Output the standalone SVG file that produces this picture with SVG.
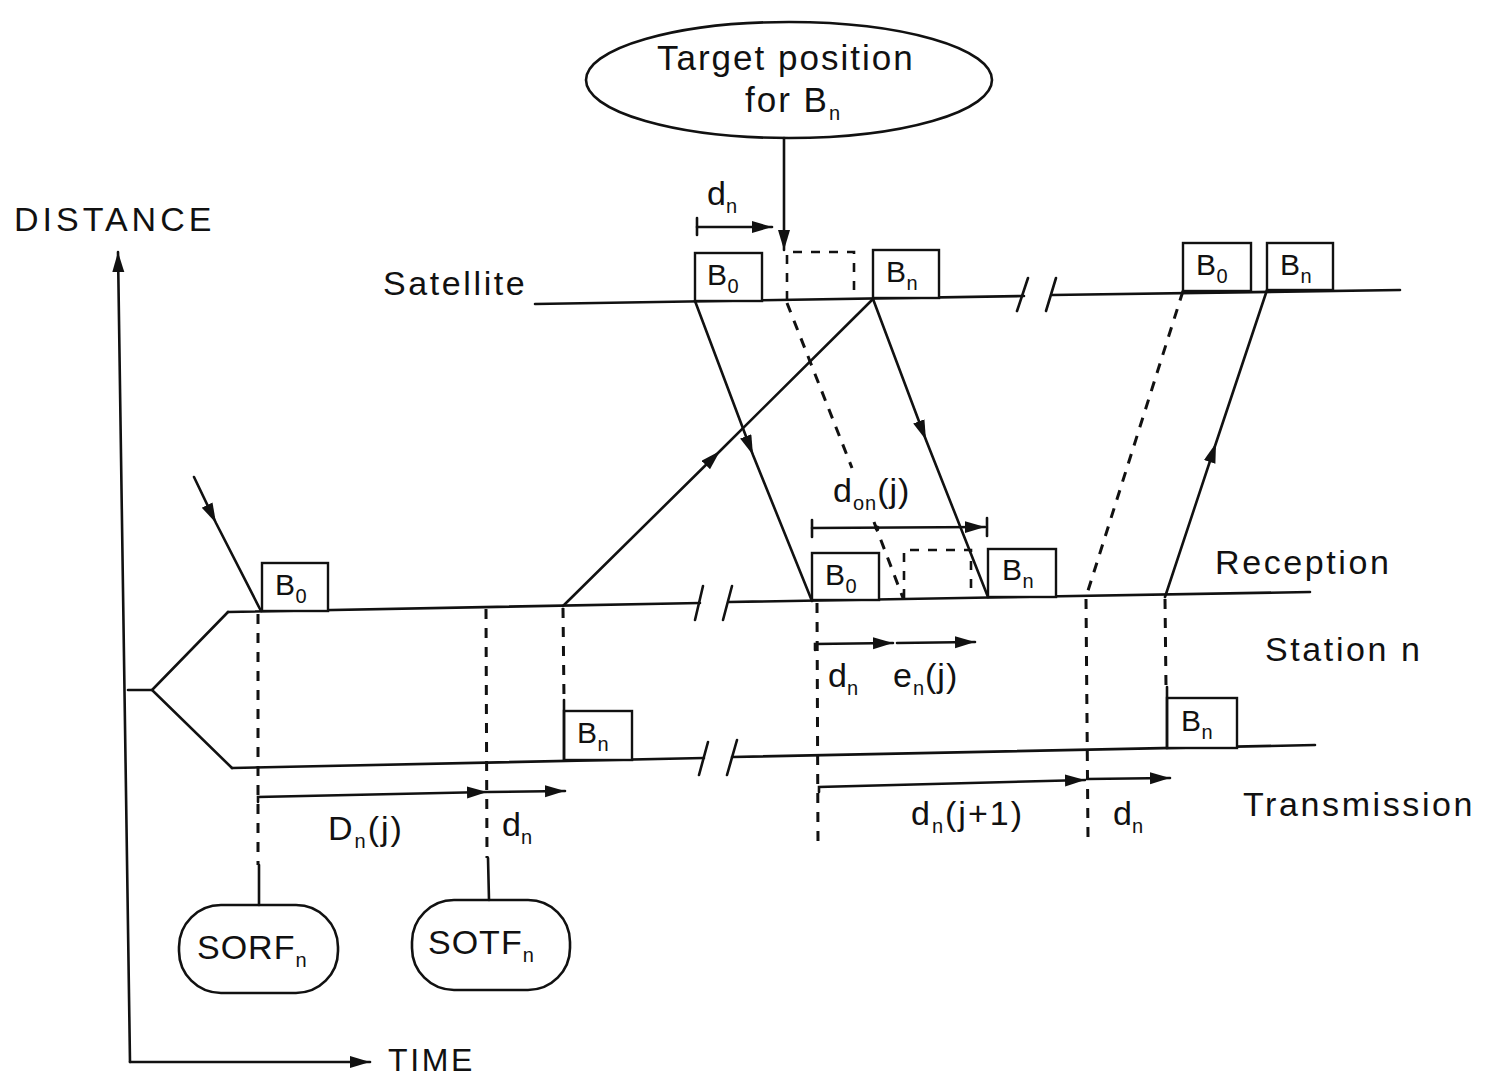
<svg xmlns="http://www.w3.org/2000/svg" width="1499" height="1078" viewBox="0 0 1499 1078">
<style>
.ln{stroke:#111;stroke-width:2.6;fill:none;stroke-linecap:round}
.ds{stroke:#111;stroke-width:3;fill:none;stroke-dasharray:10 9}
.bx{stroke:#111;stroke-width:2.4;fill:#fff}
.dbx{stroke:#111;stroke-width:2.6;fill:none;stroke-dasharray:9 9}
text{font-family:"Liberation Sans",Arial,sans-serif;fill:#111}
.lb{font-size:34px;letter-spacing:2.6px}
.bl{font-size:30px;letter-spacing:0.5px}
.sb{font-size:20px}
</style>
<defs>
<marker id="ah" markerUnits="userSpaceOnUse" markerWidth="22" markerHeight="14" refX="20" refY="6" orient="auto"><path d="M0,0 L20,6 L0,12 z" fill="#111"/></marker>
</defs>
<rect width="1499" height="1078" fill="#fff"/>

<g id="axes">
<line class="ln" x1="130" y1="1062" x2="118" y2="252" marker-end="url(#ah)"/>
<line class="ln" x1="130" y1="1062" x2="370" y2="1062" marker-end="url(#ah)"/>
<text class="lb" x="14" y="231" style="letter-spacing:4px">DISTANCE</text>
<text class="lb" x="388" y="1071" style="font-size:32px">TIME</text>
</g>

<g id="target">
<ellipse cx="789" cy="80" rx="203" ry="58" fill="#fff" stroke="#111" stroke-width="2.6"/>
<text class="lb" x="657" y="70" style="font-size:35px;letter-spacing:2px">Target position</text>
<text class="lb" x="745" y="112" style="font-size:35px;letter-spacing:2px">for B<tspan class="sb" dy="8" style="letter-spacing:0">n</tspan></text>
</g>

<g id="satellite">
<text class="lb" x="383" y="295">Satellite</text>
<line class="ln" x1="535" y1="304" x2="1024" y2="296"/>
<line class="ln" x1="1052" y1="295" x2="1400" y2="290"/>
<line class="ln" x1="1028" y1="278" x2="1017" y2="311"/>
<line class="ln" x1="1056" y1="278" x2="1046" y2="311"/>
<rect class="bx" x="695" y="253" width="67" height="48"/>
<text class="bl" x="707" y="285">B<tspan class="sb" dy="8">0</tspan></text>
<rect class="bx" x="873" y="250" width="66" height="48"/>
<text class="bl" x="886" y="282">B<tspan class="sb" dy="8">n</tspan></text>
<rect class="bx" x="1183" y="243" width="68" height="48"/>
<text class="bl" x="1196" y="275">B<tspan class="sb" dy="8">0</tspan></text>
<rect class="bx" x="1267" y="243" width="66" height="47"/>
<text class="bl" x="1280" y="275">B<tspan class="sb" dy="8">n</tspan></text>
<path class="dbx" d="M787,300 L787,252 L854,252 L854,298"/>
</g>

<g id="station">
<line class="ln" x1="128" y1="690" x2="152" y2="690"/>
<polyline class="ln" points="228,612 152,690 232,768"/>
<line class="ln" x1="228" y1="612" x2="700" y2="603"/>
<line class="ln" x1="729" y1="602" x2="1310" y2="592"/>
<line class="ln" x1="703" y1="586" x2="695" y2="620"/>
<line class="ln" x1="732" y1="586" x2="723" y2="620"/>
<line class="ln" x1="232" y1="768" x2="704" y2="758"/>
<line class="ln" x1="732" y1="757" x2="1315" y2="745"/>
<line class="ln" x1="708" y1="742" x2="699" y2="775"/>
<line class="ln" x1="737" y1="740" x2="727" y2="775"/>
<text class="lb" x="1215" y="574">Reception</text>
<text class="lb" x="1265" y="661">Station n</text>
<text class="lb" x="1243" y="816">Transmission</text>

<rect class="bx" x="262" y="563" width="66" height="48"/>
<text class="bl" x="275" y="595">B<tspan class="sb" dy="8">0</tspan></text>
<rect class="bx" x="812" y="553" width="67" height="47"/>
<text class="bl" x="825" y="585">B<tspan class="sb" dy="8">0</tspan></text>
<rect class="bx" x="988" y="549" width="68" height="48"/>
<text class="bl" x="1002" y="580">B<tspan class="sb" dy="8">n</tspan></text>
<path class="dbx" d="M904,598 L904,550 L971,550 L971,597"/>
<rect class="bx" x="564" y="711" width="68" height="49"/>
<text class="bl" x="577" y="743">B<tspan class="sb" dy="8">n</tspan></text>
<rect class="bx" x="1167" y="698" width="70" height="50"/>
<text class="bl" x="1181" y="731">B<tspan class="sb" dy="8">n</tspan></text>
<line class="ln" x1="564" y1="700" x2="564" y2="760"/>
<line class="ln" x1="1167" y1="687" x2="1167" y2="748"/>
</g>

<g id="SORF">
<rect x="179" y="905" width="159" height="88" rx="42" ry="42" fill="#fff" stroke="#111" stroke-width="2.6"/>
<text class="lb" x="197" y="959" style="letter-spacing:1px">SORF<tspan class="sb" dy="8">n</tspan></text>
</g>
<g id="SOTF">
<rect x="412" y="900" width="158" height="90" rx="42" ry="42" fill="#fff" stroke="#111" stroke-width="2.6"/>
<text class="lb" x="428" y="954" style="letter-spacing:1px">SOTF<tspan class="sb" dy="8">n</tspan></text>
</g>

<g id="connectors">
<line class="ln" x1="784" y1="138" x2="784" y2="250" marker-end="url(#ah)"/>
<line class="ln" x1="697" y1="218" x2="697" y2="235"/>
<line class="ln" x1="697" y1="227" x2="772" y2="227" marker-end="url(#ah)"/>
<text class="lb" x="707" y="205" style="letter-spacing:0">d<tspan class="sb" dy="8">n</tspan></text>

<path class="ln" d="M194,477 L216,523 L261,611" marker-mid="url(#ah)"/>
<path class="ln" d="M695,301 L753,455 L812,601" marker-mid="url(#ah)"/>
<path class="ln" d="M873,299 L926,440 L988,597" marker-mid="url(#ah)"/>
<path class="ln" d="M563,606 L720,451 L873,299" marker-mid="url(#ah)"/>
<path class="ln" d="M1165,597 L1216,443 L1267,290" marker-mid="url(#ah)"/>
<line class="ds" x1="787" y1="303" x2="852" y2="468"/>
<line class="ds" x1="874" y1="522" x2="903" y2="598"/>
<line class="ds" x1="1183" y1="291" x2="1086" y2="597"/>

<line class="ds" x1="258" y1="614" x2="258" y2="865"/>
<line class="ln" x1="259" y1="865" x2="259" y2="905"/>
<line class="ds" x1="486" y1="609" x2="487" y2="858"/>
<line class="ln" x1="488" y1="858" x2="489" y2="900"/>
<line class="ds" x1="563" y1="608" x2="564" y2="700"/>
<line class="ds" x1="817" y1="603" x2="818" y2="845"/>
<line class="ds" x1="1086" y1="599" x2="1088" y2="838"/>
<line class="ds" x1="1165" y1="599" x2="1166" y2="687"/>

<line class="ln" x1="812" y1="520" x2="812" y2="537"/>
<line class="ln" x1="987" y1="518" x2="987" y2="536"/>
<line class="ln" x1="812" y1="528" x2="985" y2="527" marker-end="url(#ah)"/>
<circle cx="877" cy="528" r="2.5" fill="#111"/>
<text class="lb" x="833" y="502" style="letter-spacing:1px">d<tspan class="sb" dy="8">on</tspan><tspan dy="-8">(j)</tspan></text>

<path class="ln" d="M815,650 L815,644 L893,643" marker-end="url(#ah)"/>
<line class="ln" x1="897" y1="643" x2="975" y2="642" marker-end="url(#ah)"/>
<text class="lb" x="828" y="687" style="letter-spacing:0">d<tspan class="sb" dy="8">n</tspan></text>
<text class="lb" x="893" y="687" style="letter-spacing:1px">e<tspan class="sb" dy="8">n</tspan><tspan dy="-8">(j)</tspan></text>

<path class="ln" d="M258,802 L258,797 L487,792" marker-end="url(#ah)"/>
<line class="ln" x1="488" y1="792" x2="565" y2="791" marker-end="url(#ah)"/>
<text class="lb" x="328" y="840" style="letter-spacing:2px">D<tspan class="sb" dy="8">n</tspan><tspan dy="-8">(j)</tspan></text>
<text class="lb" x="502" y="836" style="letter-spacing:0">d<tspan class="sb" dy="8">n</tspan></text>

<path class="ln" d="M819,792 L819,787 L1085,780" marker-end="url(#ah)"/>
<line class="ln" x1="1087" y1="779" x2="1170" y2="778" marker-end="url(#ah)"/>
<text class="lb" x="911" y="825" style="letter-spacing:2px">d<tspan class="sb" dy="8">n</tspan><tspan dy="-8">(j+1)</tspan></text>
<text class="lb" x="1113" y="825" style="letter-spacing:0">d<tspan class="sb" dy="8">n</tspan></text>
</g>
</svg>
